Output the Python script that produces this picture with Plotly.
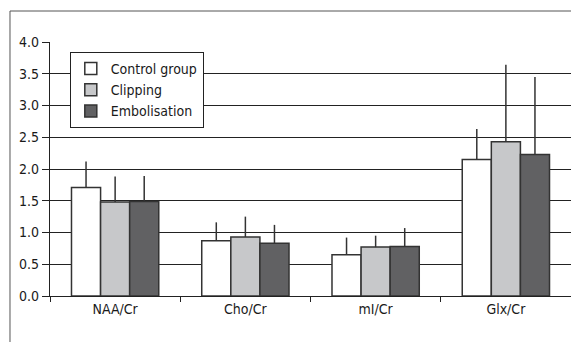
import plotly.graph_objects as go

categories = ["NAA/Cr", "Cho/Cr", "mI/Cr", "Glx/Cr"]
series_names = ["Control group", "Clipping", "Embolisation"]
control_mean = [1.71, 0.87, 0.65, 2.15]
clipping_mean = [1.48, 0.93, 0.77, 2.43]
embol_mean = [1.49, 0.83, 0.78, 2.23]
control_sd = [0.41, 0.29, 0.27, 0.48]
clipping_sd = [0.40, 0.32, 0.18, 1.21]
embol_sd = [0.40, 0.29, 0.29, 1.22]
y_ticks = [0.0, 0.5, 1.0, 1.5, 2.0, 2.5, 3.0, 3.5, 4.0]

colors = ["#ffffff", "#c7c8ca", "#616163"]
FONT = "Liberation Sans Narrow, DejaVu Sans Condensed, Arial Narrow, sans-serif"

fig = go.Figure()
for name, mean, sd, col in zip(series_names,
                               [control_mean, clipping_mean, embol_mean],
                               [control_sd, clipping_sd, embol_sd], colors):
    fig.add_trace(go.Bar(
        x=categories, y=mean, name=name,
        marker=dict(color=col, line=dict(color="#333333", width=1.5)),
        error_y=dict(type="data", symmetric=False, array=sd,
                     arrayminus=[0] * len(sd), width=0, thickness=1.5,
                     color="#333333"),
    ))

fig.update_layout(
    width=571, height=342,
    margin=dict(l=50, r=0, t=42, b=46),
    paper_bgcolor="white", plot_bgcolor="white",
    barmode="group", bargap=0.33, bargroupgap=0,
    font=dict(family=FONT, size=14, color="#1a1a1a"),
    legend=dict(x=0.038, y=0.961, xanchor="left", yanchor="top",
                bgcolor="white", bordercolor="#222222", borderwidth=1,
                font=dict(family=FONT, size=14, color="#1a1a1a"),
                tracegroupgap=0, itemwidth=30),
    showlegend=True,
    shapes=[
        dict(type="line", xref="paper", yref="paper",
             x0=-0.0768, x1=1.05, y0=1.122, y1=1.122,
             line=dict(color="#555555", width=1)),
        dict(type="line", xref="paper", yref="paper",
             x0=-0.0768, x1=-0.0768, y0=1.122, y1=-0.25,
             line=dict(color="#555555", width=1)),
    ],
)
fig.update_xaxes(type="category", tickson="boundaries", ticks="outside",
                 ticklen=5, tickcolor="#222222", showline=True,
                 linecolor="#222222", linewidth=1.2, showgrid=False,
                 tickfont=dict(family=FONT, size=14, color="#1a1a1a"))
fig.update_yaxes(range=[0, 4], tickvals=y_ticks,
                 ticktext=[f"{v:.1f}" for v in y_ticks],
                 ticks="outside", ticklen=7, tickcolor="#222222",
                 showline=True, linecolor="#222222", linewidth=1.2,
                 showgrid=True, gridcolor="#222222", gridwidth=1.2,
                 zeroline=False,
                 tickfont=dict(family=FONT, size=14, color="#1a1a1a"))

fig.write_html(
    "out.html",
    config={"displayModeBar": False},
    post_script="document.documentElement.style.overflow='hidden';"
                "document.body.style.overflow='hidden';"
                "document.body.style.margin='0';",
)
